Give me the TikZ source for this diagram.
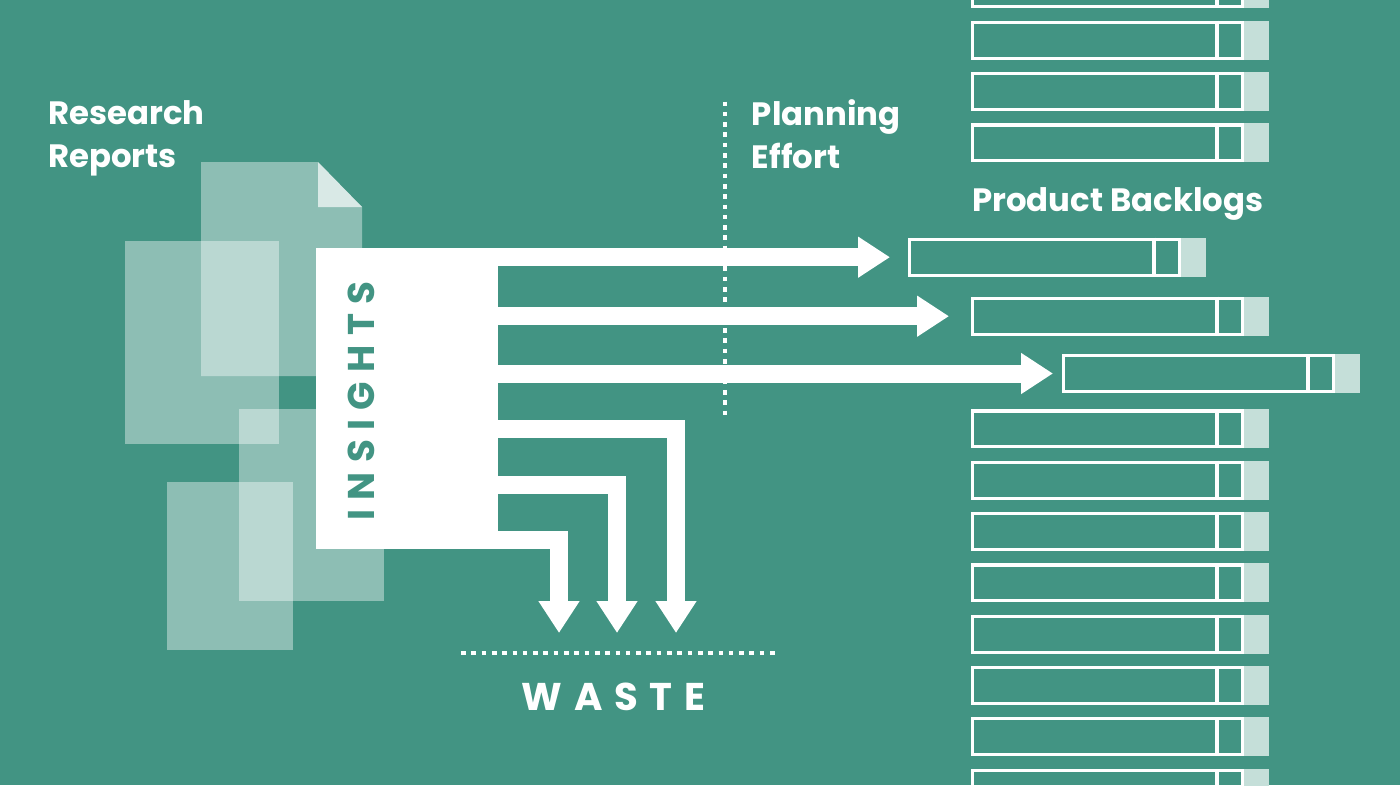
\documentclass[tikz,border=0pt]{standalone}
\usepackage{fontspec}
\setmainfont{Poppins}
\usetikzlibrary{arrows.meta}

\definecolor{bgteal}{RGB}{66,148,131}
\definecolor{barfill}{RGB}{197,223,217}

% one backlog row: name, left x, top y
\newcommand{\backlog}[3]{%
  \node[bar] (#1) at (#2,#3) {};
  \fill[barfill] (#1.north east) rectangle ++(24.5,39);
  \draw[white, line width=0.8mm] (#1.north east) ++(-27,0) -- ++(0,39);
}

\begin{document}
\begin{tikzpicture}[
    x=0.25mm, y=-0.25mm,
    report/.style={fill=white, fill opacity=0.4},
    bar/.style={draw=white, line width=0.8mm, inner sep=0, anchor=north west,
      minimum width=67.45mm, minimum height=8.95mm},
    heading/.style={text=white, font=\bfseries\fontsize{23}{30}\selectfont,
      align=left, inner sep=0, anchor=base west},
    bigarrow/.style={draw=white, line width=4.5mm, -{Triangle[length=8mm, width=9.75mm]}},
    dots/.style={draw=white, line width=1.15mm, dash pattern=on 1.15mm off 1.425mm},
  ]
  \fill[bgteal] (0,0) rectangle (1400,785);
  \useasboundingbox (0,0) rectangle (1400,785);

  % research reports
  \path[report] (201,162) -- (318,162) -- (362,207) -- (362,376) -- (201,376) -- cycle;
  \fill[white, opacity=0.67] (318,162) -- (318,207) -- (362,207) -- cycle;
  \path[report] (125,241) rectangle (279,444);
  \path[report] (239,409) rectangle (384,601);
  \path[report] (167,482) rectangle (293,650);

  \node[fill=white, inner sep=0, outer sep=0, anchor=north west,
    minimum width=45.5mm, minimum height=75.25mm] (insights) at (316,248) {};
  \node[rotate=90, anchor=base, inner sep=0, text=bgteal,
    font=\bfseries\fontsize{26.5}{30}\selectfont\addfontfeature{LetterSpace=25}]
    (insightslabel) at (374,401) {INSIGHTS};

  % backlogs
  \foreach \y [count=\i] in {-31,20.7,72,123.3,409.3,460.7,512,563.3,614.7,665.7,717,769} {
    \backlog{bar\i}{971}{\y}
  }
  \backlog{barA}{908}{237.7}
  \backlog{barB}{971}{296.7}
  \backlog{barC}{1062}{354}

  \draw[dots] (725,101.5) -- (725,415);
  \draw[dots] (461,653) -- (775,653);

  \draw[bigarrow] (insights.east |- barA.west) -- ([xshift=-4.5mm]barA.west);
  \draw[bigarrow] (insights.east |- barB.west) -- ([xshift=-5.5mm]barB.west);
  \draw[bigarrow] (insights.east |- barC.west) -- ([xshift=-2.25mm]barC.west);

  \coordinate (w1) at (559,633);
  \coordinate (w2) at (617,633);
  \coordinate (w3) at (676,633);
  \draw[bigarrow] (insights.east |- 0,539.5) -| (w1);
  \draw[bigarrow] (insights.east |- 0,484.5) -| (w2);
  \draw[bigarrow] (insights.east |- 0,428.7) -| (w3);

  % base of a two-line node is its last line
  \node[heading] (research) at (48,167) {Research\\Reports};
  \node[heading] (planning) at (751.7,168) {Planning\\Effort};
  \node[heading] (backlogs) at (972,211.7) {Product Backlogs};
  \node[anchor=base, inner sep=0, text=white,
    font=\bfseries\fontsize{27.5}{30}\selectfont\addfontfeature{LetterSpace=30}]
    (waste) at (613.5,710) {WASTE};
\end{tikzpicture}
\end{document}
